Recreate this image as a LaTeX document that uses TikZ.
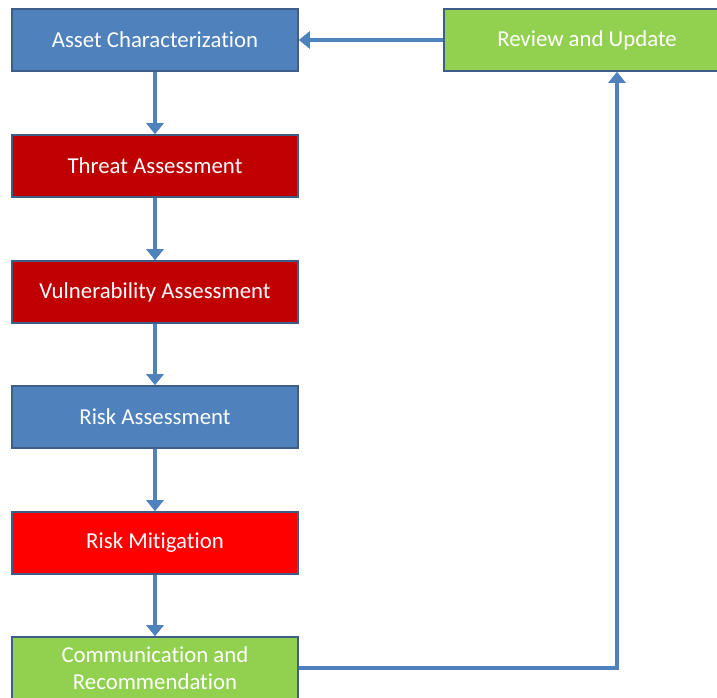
\documentclass[tikz,border=0pt]{standalone}
\usepackage{fontspec}
\setmainfont{Carlito}[Ligatures=NoCommon]
\usetikzlibrary{arrows.meta}
\definecolor{stepblue}{HTML}{4F81BD}
\definecolor{stepdark}{HTML}{C00000}
\definecolor{stepred}{HTML}{FF0000}
\definecolor{stepgreen}{HTML}{92D050}
\definecolor{edgeline}{HTML}{3E5D87}
\definecolor{flowline}{HTML}{4F81BD}
\tikzset{
  stepbox/.style={draw=edgeline, line width=1.6pt, minimum width=286pt,
    minimum height=62pt, inner sep=0pt, text=white, align=center,
    font=\fontsize{22.8}{27}\selectfont},
  flow/.style={draw=flowline, line width=3.4pt,
    -{Triangle[width=17pt,length=11pt]}, shorten >=0pt},
}
\begin{document}
\begin{tikzpicture}[x=1pt,y=1pt]
  \useasboundingbox (0,0) rectangle (717,-698);
  \clip (0,0) rectangle (717,-698);
  \fill[white] (0,0) rectangle (717,-698);

  \node[stepbox, fill=stepblue]  (asset)  at (155,-40)  {Asset Characterization};
  \node[stepbox, fill=stepdark]  (threat) at (155,-166) {Threat Assessment};
  \node[stepbox, fill=stepdark]  (vuln)   at (155,-292) {Vulnerability Assessment};
  \node[stepbox, fill=stepblue]  (risk)   at (155,-417) {Risk Assessment};
  \node[stepbox, fill=stepred]   (mitig)  at (155,-543) {Risk Mitigation};
  \node[stepbox, fill=stepgreen] (comm)   at (155,-668) {Communication and\\Recommendation};
  \node[stepbox, fill=stepgreen] (review) at (587,-40)  {Review and Update};

  \draw[flow] (asset)  -- (threat);
  \draw[flow] (threat) -- (vuln);
  \draw[flow] (vuln)   -- (risk);
  \draw[flow] (risk)   -- (mitig);
  \draw[flow] (mitig)  -- (comm);
  \draw[flow] (review) -- (asset);
  \draw[flow] (comm.east) -| ([xshift=30pt]review.south);
\end{tikzpicture}
\end{document}
